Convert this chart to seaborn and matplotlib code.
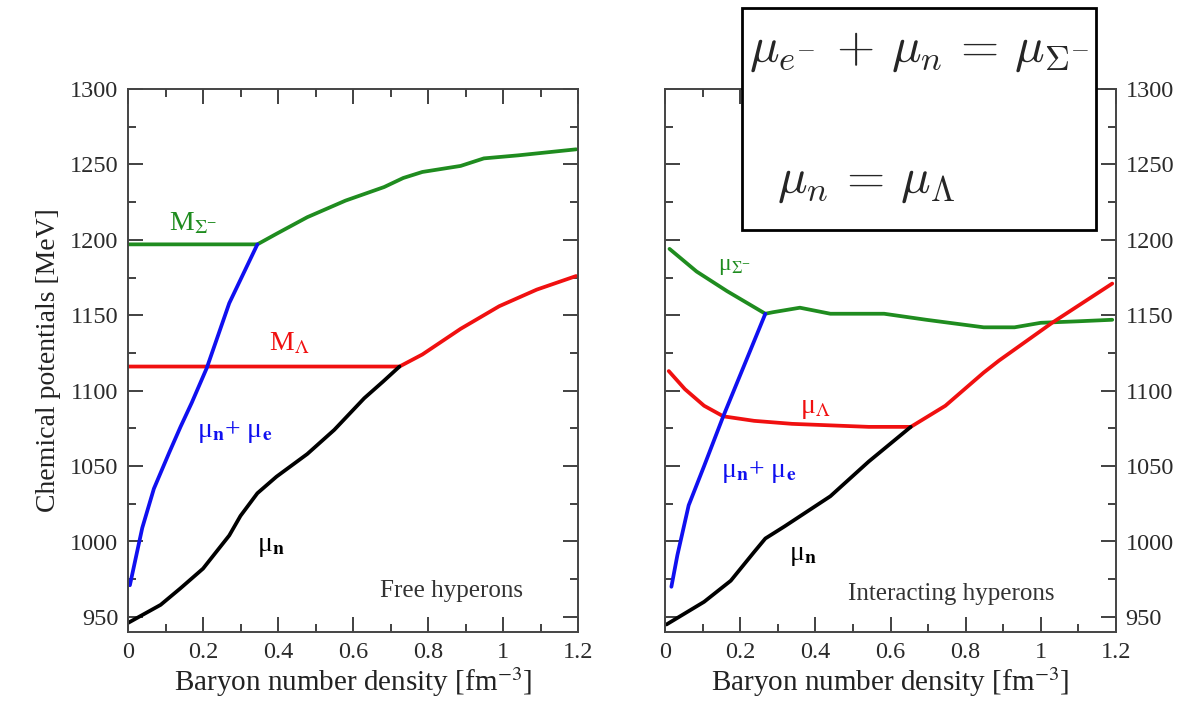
import matplotlib
matplotlib.use("Agg")
import matplotlib.pyplot as plt
import seaborn as sns
import numpy as np
import pandas as pd
from matplotlib.patches import Rectangle
from matplotlib.ticker import MultipleLocator

sns.set_theme(style="ticks")
plt.rcParams['font.family'] = ['Liberation Serif', 'DejaVu Serif']
plt.rcParams['mathtext.fontset'] = 'stix'

# ---------------- data: free hyperons (left) ----------------
free_sigma_x = [0.0, 0.345, 0.396, 0.478, 0.58, 0.683, 0.734, 0.785, 0.887, 0.949, 1.04, 1.195]
free_sigma_y = [1197, 1197, 1204, 1215, 1226, 1235, 1241, 1245, 1249, 1254, 1256, 1260]

free_lambda_x = [0.0, 0.724, 0.785, 0.887, 0.99, 1.09, 1.195]
free_lambda_y = [1116, 1116, 1124, 1141, 1156, 1167, 1176]

free_ne_x = [0.005, 0.038, 0.069, 0.11, 0.14, 0.17, 0.21, 0.27, 0.345]
free_ne_y = [971, 1009, 1035, 1059, 1076, 1092, 1115, 1158, 1197]

free_n_x = [0.0, 0.087, 0.14, 0.2, 0.27, 0.3, 0.345, 0.396, 0.478, 0.55, 0.63, 0.68, 0.724]
free_n_y = [946, 958, 969, 982, 1004, 1017, 1032, 1043, 1058, 1074, 1095, 1106, 1116]

# ---------------- data: interacting hyperons (right) ----------------
int_sigma_x = [0.012, 0.084, 0.165, 0.267, 0.287, 0.359, 0.44, 0.583, 0.695, 0.848, 0.93, 1.0, 1.1, 1.19]
int_sigma_y = [1194, 1179, 1166, 1151, 1152, 1155, 1151, 1151, 1147, 1142, 1142, 1145, 1146, 1147]

int_lambda_x = [0.01, 0.053, 0.104, 0.155, 0.237, 0.338, 0.44, 0.542, 0.654, 0.746, 0.848, 0.889, 1.03, 1.19]
int_lambda_y = [1113, 1101, 1090, 1083, 1080, 1078, 1077, 1076, 1076, 1090, 1112, 1120, 1145, 1171]

int_ne_x = [0.017, 0.033, 0.063, 0.104, 0.155, 0.216, 0.267]
int_ne_y = [970, 991, 1024, 1050, 1083, 1120, 1151]

int_n_x = [0.004, 0.104, 0.175, 0.237, 0.267, 0.318, 0.44, 0.542, 0.654]
int_n_y = [945, 960, 974, 993, 1002, 1010, 1030, 1053, 1076]

x_ticks = [0, 0.2, 0.4, 0.6, 0.8, 1.0, 1.2]
x_tick_labels = ["0", "0.2", "0.4", "0.6", "0.8", "1", "1.2"]
y_ticks = [950, 1000, 1050, 1100, 1150, 1200, 1250, 1300]

GREEN = "#1f8c1f"
RED = "#f01010"
BLUE = "#1010f0"
BLACK = "#000000"
LW = 2.7

fig = plt.figure(figsize=(12.03, 7.01), dpi=100)
ax1 = fig.add_axes([128 / 1203, 1 - 632 / 701, 450 / 1203, 543 / 701])
ax2 = fig.add_axes([665 / 1203, 1 - 632 / 701, 451 / 1203, 543 / 701])


def draw(ax, x, y, c):
    sns.lineplot(x=x, y=y, color=c, linewidth=LW, ax=ax, sort=False, estimator=None)


draw(ax1, free_sigma_x, free_sigma_y, GREEN)
draw(ax1, free_lambda_x, free_lambda_y, RED)
draw(ax1, free_ne_x, free_ne_y, BLUE)
draw(ax1, free_n_x, free_n_y, BLACK)

draw(ax2, int_sigma_x, int_sigma_y, GREEN)
draw(ax2, int_lambda_x, int_lambda_y, RED)
draw(ax2, int_ne_x, int_ne_y, BLUE)
draw(ax2, int_n_x, int_n_y, BLACK)

for ax in (ax1, ax2):
    ax.set_xlim(0, 1.2)
    ax.set_ylim(940, 1300)
    ax.set_xticks(x_ticks)
    ax.set_xticklabels(x_tick_labels)
    ax.set_yticks(y_ticks)
    ax.xaxis.set_minor_locator(MultipleLocator(0.1))
    ax.yaxis.set_minor_locator(MultipleLocator(25))
    ax.tick_params(which='both', direction='in', top=True, right=True, left=True, bottom=True,
                   color='#333333', width=1.3, labelsize=17.5, labelcolor='#2a2a2a', pad=7)
    ax.tick_params(which='major', length=11)
    ax.tick_params(which='minor', length=6)
    for s in ax.spines.values():
        s.set_visible(True)
        s.set_color('#444444')
        s.set_linewidth(1.4)
    ax.set_xlabel("Baryon number density [fm$^{-3}$]", fontsize=21, color='#222222', labelpad=2)
    ax.set_ylabel("")

ax1.tick_params(axis='y', labelleft=True, labelright=False)
ax2.tick_params(axis='y', labelleft=False, labelright=True)
ax1.set_ylabel("Chemical potentials [MeV]", fontsize=20, color='#222222', labelpad=6)

FS = 20
# curve labels (left)
ax1.text(0.11, 1206, r'M$_{\Sigma^{-}}$', color=GREEN, fontsize=FS)
ax1.text(0.375, 1127, r'M$_{\Lambda}$', color=RED, fontsize=FS)
ax1.text(0.185, 1069, r'μ$_{\mathbf{n}}$+ μ$_{\mathbf{e}}$', color=BLUE, fontsize=FS)
ax1.text(0.345, 994, r'μ$_{\mathbf{n}}$', color=BLACK, fontsize=FS)
ax1.text(0.672, 963, 'Free hyperons', color='#333333', fontsize=18)

# curve labels (right)
ax2.text(0.14, 1180, r'μ$_{\Sigma^{-}}$', color=GREEN, fontsize=17)
ax2.text(0.36, 1085, r'μ$_{\Lambda}$', color=RED, fontsize=FS)
ax2.text(0.15, 1043, r'μ$_{\mathbf{n}}$+ μ$_{\mathbf{e}}$', color=BLUE, fontsize=FS)
ax2.text(0.33, 988, r'μ$_{\mathbf{n}}$', color=BLACK, fontsize=FS)
ax2.text(0.486, 961, 'Interacting hyperons', color='#333333', fontsize=18)

# equation box
box = Rectangle((742 / 1203, 1 - 230 / 701), (1096 - 742) / 1203, 222 / 701,
                transform=fig.transFigure, facecolor='white', edgecolor='black',
                linewidth=2, zorder=10)
fig.add_artist(box)
fig.text(749 / 1203, 1 - 52 / 701, r'$\mu_{e^{-}}\,+\,\mu_n\,=\,\mu_{\Sigma^{-}}$',
         fontsize=35.5, math_fontfamily='cm', va='center', ha='left', zorder=11)
fig.text(777 / 1203, 1 - 183 / 701, r'$\mu_n\,=\,\mu_\Lambda$',
         fontsize=35.5, math_fontfamily='cm', va='center', ha='left', zorder=11)

fig.savefig("out.png", dpi=100)
